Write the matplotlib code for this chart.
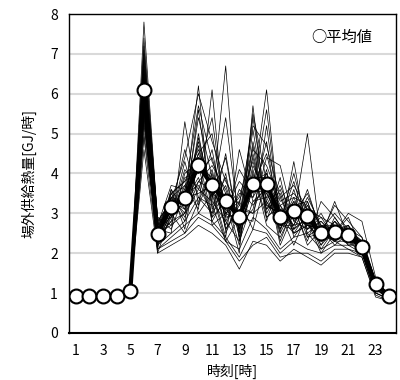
import matplotlib
matplotlib.use('Agg')
import matplotlib.pyplot as plt

plt.rcParams['font.family'] = ['Liberation Sans Narrow', 'Noto Sans CJK JP', 'DejaVu Sans']

# hours of the day
hours = list(range(1, 25))
xticks = [1, 3, 5, 7, 9, 11, 13, 15, 17, 19, 21, 23]

# hourly average (thick line with circles)
avg = [0.92, 0.92, 0.92, 0.92, 1.05, 6.1, 2.48, 3.17, 3.39, 4.21, 3.7, 3.32,
       2.9, 3.74, 3.74, 2.92, 3.07, 2.93, 2.5, 2.54, 2.45, 2.16, 1.22, 0.93]

# daily profiles (thin lines), hours 1..24
days = [
    [0.90, 0.90, 0.90, 0.90, 1.05, 6.2, 2.3, 3.4, 3.0, 5.0, 3.2, 3.9, 2.4, 4.5, 3.1, 3.4, 2.6, 3.3, 2.3, 2.8, 2.3, 2.2, 1.2, 0.90],
    [0.92, 0.92, 0.92, 0.92, 1.08, 7.8, 2.8, 2.9, 4.1, 3.6, 4.6, 2.8, 3.5, 3.4, 4.8, 2.6, 3.6, 2.5, 2.8, 2.4, 2.7, 2.1, 1.3, 0.90],
    [0.90, 0.90, 0.90, 0.90, 1.02, 5.6, 2.1, 3.6, 2.6, 4.4, 2.9, 3.3, 2.0, 5.7, 2.8, 3.9, 2.4, 2.9, 2.1, 2.6, 2.2, 2.3, 1.1, 0.90],
    [0.93, 0.93, 0.93, 0.93, 1.08, 6.8, 2.6, 2.5, 5.3, 3.2, 4.0, 2.6, 3.1, 3.0, 4.1, 2.3, 3.2, 2.2, 2.6, 2.2, 2.5, 2.0, 1.3, 0.90],
    [0.88, 0.88, 0.88, 0.88, 1.00, 5.0, 2.4, 3.2, 3.3, 6.2, 2.7, 3.0, 2.8, 3.8, 3.5, 2.9, 2.5, 2.7, 2.4, 3.3, 2.4, 2.2, 1.1, 0.85],
    [0.90, 0.90, 0.90, 0.90, 1.05, 6.5, 2.0, 3.0, 3.7, 3.1, 6.1, 2.5, 3.3, 2.6, 3.9, 2.2, 3.0, 2.8, 2.0, 2.5, 2.9, 2.1, 1.2, 0.90],
    [0.92, 0.92, 0.92, 0.92, 1.06, 7.2, 2.9, 2.6, 3.5, 4.7, 3.3, 6.7, 2.3, 4.0, 2.9, 3.2, 2.7, 3.6, 2.5, 2.3, 2.6, 2.4, 1.2, 0.90],
    [0.88, 0.88, 0.88, 0.88, 1.02, 5.4, 2.2, 3.5, 2.9, 3.8, 3.6, 2.4, 4.6, 3.3, 3.6, 2.5, 4.3, 2.4, 2.7, 2.6, 2.3, 2.0, 1.0, 0.85],
    [0.90, 0.90, 0.90, 0.90, 1.04, 6.0, 2.7, 3.1, 4.6, 3.4, 3.0, 3.5, 2.6, 5.4, 3.2, 3.0, 2.2, 3.0, 2.2, 2.9, 2.4, 2.3, 1.2, 0.90],
    [0.92, 0.92, 0.92, 0.92, 1.06, 6.6, 2.5, 3.3, 3.2, 5.4, 3.9, 2.9, 3.0, 3.6, 6.1, 2.7, 3.4, 2.6, 2.9, 2.4, 2.6, 2.2, 1.3, 0.90],
    [0.86, 0.86, 0.86, 0.86, 1.00, 4.6, 2.0, 2.2, 2.4, 2.7, 2.5, 2.2, 1.6, 2.3, 2.2, 1.8, 2.1, 1.9, 1.7, 2.0, 2.0, 1.9, 0.9, 0.80],
    [0.90, 0.90, 0.90, 0.90, 1.04, 5.8, 2.4, 2.8, 3.9, 4.0, 4.4, 3.1, 2.7, 3.1, 4.4, 4.2, 2.8, 3.2, 2.4, 2.7, 2.5, 2.1, 1.2, 0.90],
    [0.91, 0.91, 0.91, 0.91, 1.05, 6.3, 2.6, 3.4, 2.8, 4.9, 3.4, 4.4, 2.5, 4.8, 3.3, 2.8, 4.0, 2.7, 2.6, 2.3, 2.3, 2.2, 1.2, 0.90],
    [0.90, 0.90, 0.90, 0.90, 1.05, 6.1, 2.3, 3.0, 3.4, 3.5, 3.7, 2.7, 3.6, 3.2, 3.7, 3.1, 2.9, 5.0, 2.3, 2.6, 2.7, 2.0, 1.2, 0.90],
    [0.88, 0.88, 0.88, 0.88, 1.02, 5.2, 2.5, 2.7, 3.0, 4.2, 2.8, 3.4, 2.2, 4.1, 2.7, 2.4, 3.1, 2.3, 3.3, 2.9, 2.4, 2.1, 1.1, 0.85],
    [0.93, 0.93, 0.93, 0.93, 1.08, 6.9, 2.7, 3.7, 3.6, 4.5, 5.0, 3.0, 3.4, 4.6, 4.2, 3.3, 3.5, 3.1, 2.5, 3.2, 2.8, 2.4, 1.3, 0.95],
    [0.90, 0.90, 0.90, 0.90, 1.04, 5.9, 2.2, 2.9, 4.3, 3.0, 3.5, 2.3, 2.9, 2.8, 5.2, 2.7, 2.7, 3.4, 2.7, 2.5, 3.0, 2.8, 1.4, 0.90],
    [0.91, 0.91, 0.91, 0.91, 1.05, 6.4, 2.8, 3.3, 3.1, 5.6, 3.1, 3.7, 2.6, 5.1, 3.0, 3.6, 2.6, 2.9, 2.4, 2.8, 2.5, 2.3, 1.2, 0.90],
    [0.87, 0.87, 0.87, 0.87, 1.01, 5.5, 2.1, 2.4, 2.7, 3.0, 2.8, 2.4, 1.9, 2.6, 2.5, 2.0, 2.3, 2.1, 2.0, 2.2, 2.2, 2.0, 1.0, 0.85],
    [0.93, 0.93, 0.93, 0.93, 1.08, 7.0, 2.6, 3.5, 3.8, 4.1, 5.4, 2.9, 4.1, 3.5, 5.6, 2.8, 3.8, 2.6, 3.0, 2.4, 2.6, 2.3, 1.3, 0.90],
    [0.90, 0.90, 0.90, 0.90, 1.05, 6.2, 2.4, 3.2, 3.5, 4.8, 3.4, 5.4, 2.7, 4.2, 3.4, 3.5, 2.5, 3.0, 2.3, 2.7, 2.2, 2.2, 1.2, 0.90],
    [0.89, 0.89, 0.89, 0.89, 1.03, 5.7, 2.3, 3.0, 2.5, 3.3, 4.1, 2.6, 3.2, 3.0, 3.3, 2.6, 3.3, 2.4, 2.5, 2.3, 2.5, 2.1, 1.1, 0.90],
    [0.92, 0.92, 0.92, 0.92, 1.07, 6.7, 2.9, 2.7, 4.0, 4.3, 3.6, 3.3, 2.8, 5.5, 3.8, 2.9, 3.0, 3.5, 2.6, 3.0, 2.6, 2.2, 1.3, 0.90],
    [0.90, 0.90, 0.90, 0.90, 1.04, 6.0, 2.5, 3.4, 3.3, 3.9, 2.9, 4.0, 2.4, 3.7, 4.5, 3.0, 2.7, 2.8, 2.2, 2.6, 2.4, 2.1, 1.2, 0.90],
    [0.88, 0.88, 0.88, 0.88, 1.02, 5.3, 2.2, 2.5, 2.8, 3.4, 3.2, 2.3, 2.1, 2.9, 2.6, 2.1, 2.4, 2.5, 2.1, 2.3, 2.1, 2.0, 1.0, 0.85],
    [0.91, 0.91, 0.91, 0.91, 1.06, 6.4, 2.7, 3.1, 3.6, 5.7, 4.3, 3.5, 3.0, 4.4, 3.1, 3.7, 2.8, 2.6, 2.8, 2.5, 2.7, 2.2, 1.2, 0.90],
    [0.90, 0.90, 0.90, 0.90, 1.05, 6.1, 2.4, 3.6, 3.1, 4.4, 3.8, 3.1, 3.8, 3.4, 4.0, 2.5, 3.2, 3.3, 2.4, 2.8, 2.4, 2.3, 1.2, 0.90],
    [0.90, 0.90, 0.90, 0.90, 1.04, 5.9, 2.6, 2.9, 3.5, 3.7, 3.0, 4.5, 2.5, 4.7, 2.9, 3.2, 2.5, 2.7, 2.6, 2.4, 2.5, 2.1, 1.2, 0.90],
    [0.93, 0.93, 0.93, 0.93, 1.08, 7.4, 2.8, 3.3, 4.4, 6.0, 4.8, 3.8, 3.2, 5.2, 4.7, 3.4, 3.7, 3.1, 2.9, 2.7, 2.6, 2.3, 1.3, 0.90],
    [0.86, 0.86, 0.86, 0.86, 1.00, 4.9, 2.1, 2.3, 2.5, 2.9, 2.7, 2.3, 1.8, 2.2, 2.4, 1.9, 2.0, 2.0, 1.8, 2.1, 2.1, 1.9, 0.95, 0.80],
    [0.91, 0.91, 0.91, 0.91, 1.05, 6.3, 2.5, 3.5, 3.8, 4.6, 3.5, 3.2, 2.9, 3.9, 3.9, 3.1, 2.9, 2.8, 2.5, 2.5, 2.4, 2.2, 1.2, 0.90],
    [0.90, 0.90, 0.90, 0.90, 1.04, 5.8, 2.3, 3.1, 3.2, 3.8, 4.2, 3.6, 2.6, 3.6, 3.5, 2.8, 3.3, 3.0, 2.3, 2.6, 2.3, 2.1, 1.2, 0.90],
    [0.92, 0.92, 0.92, 0.92, 1.06, 6.6, 2.6, 3.3, 3.4, 4.5, 3.6, 3.0, 3.3, 4.3, 3.2, 3.0, 3.1, 2.7, 2.6, 2.4, 2.6, 2.2, 1.3, 0.90],
    [0.89, 0.89, 0.89, 0.89, 1.03, 5.5, 2.4, 2.8, 3.0, 3.6, 3.3, 2.8, 2.3, 3.3, 3.4, 2.7, 2.6, 2.9, 2.4, 2.5, 2.5, 2.0, 1.1, 0.90],
    [0.92, 0.92, 0.92, 0.92, 1.07, 7.1, 2.7, 3.4, 3.7, 4.2, 3.9, 3.4, 3.0, 3.8, 4.0, 3.2, 3.4, 3.2, 2.7, 2.7, 2.4, 2.3, 1.3, 0.90],
]

fig = plt.figure(figsize=(4.0, 3.8), dpi=100)
ax = fig.add_axes([0.1725, 0.124, 0.8175, 0.839])

# thin lines for each day
for d in days:
    ax.plot(hours, d, color='black', lw=0.5, zorder=2)

# average line with white circles
ax.plot(hours, avg, color='black', lw=3, marker='o', ms=10,
        mfc='white', mec='black', mew=1.5, zorder=3)

ax.set_xlim(0.5, 24.5)
ax.set_ylim(0, 8)
ax.set_xticks(xticks)
ax.set_yticks(range(0, 9))
ax.tick_params(length=0, labelsize=10, pad=8)
ax.grid(axis='y', color='#d9d9d9', lw=1.5, zorder=0)
ax.set_axisbelow(True)
for s in ax.spines.values():
    s.set_color('black')
    s.set_linewidth(1)
ax.spines['bottom'].set_linewidth(1.5)

ax.set_ylabel('場外供給熱量[GJ/時]', fontsize=10, labelpad=10)
ax.set_xlabel('時刻[時]', fontsize=10, labelpad=4)

# legend drawn as text, like the original
ax.text(0.927, 0.928, '○平均値', transform=ax.transAxes, ha='right',
        va='center', fontsize=11, family=['Noto Sans CJK JP'])

fig.savefig('out.png', dpi=100)
